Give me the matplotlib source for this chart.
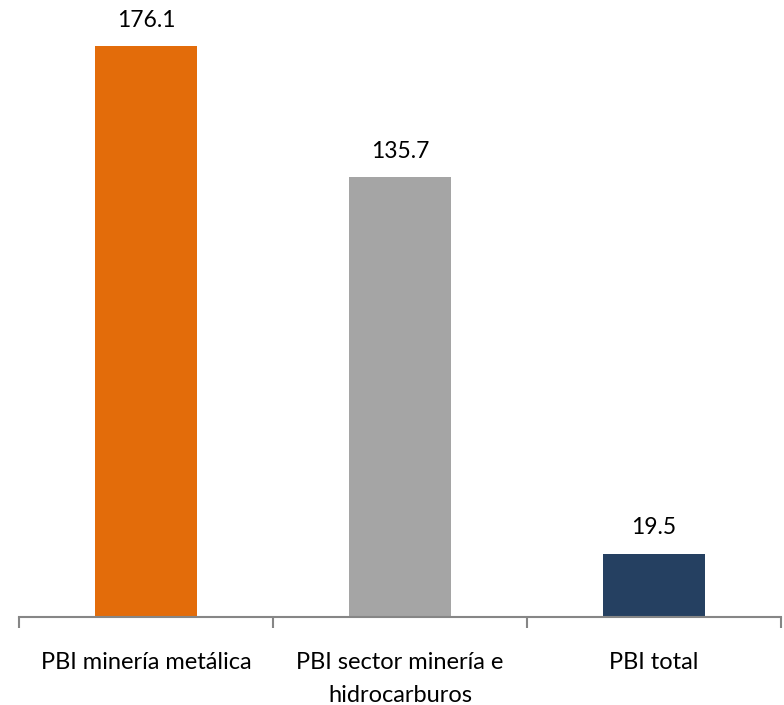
import matplotlib.pyplot as plt
import numpy as np

categories = ['PBI minería metálica', 'PBI sector minería e\nhidrocarburos', 'PBI total']
values = [176.1, 135.7, 19.5]
colors = ['#E36C0A', '#A5A5A5', '#254061']

plt.rcParams['font.family'] = ['Lato', 'DejaVu Sans']

fig = plt.figure(figsize=(7.84, 7.05), dpi=100)
ax = fig.add_axes([19 / 784, 88 / 705, 762 / 784, 617 / 705])

x = np.arange(len(categories))
bars = ax.bar(x, values, width=0.4, color=colors)

for b, v in zip(bars, values):
    ax.annotate(f'{v:.1f}', (b.get_x() + b.get_width() / 2, v),
                xytext=(0, 11), textcoords='offset points',
                ha='center', va='bottom', fontsize=16.5)

ax.set_xlim(-0.5, 2.5)
ax.set_ylim(0, 190.3)

for s in ['top', 'right', 'left']:
    ax.spines[s].set_visible(False)
ax.spines['bottom'].set_color('#868686')
ax.spines['bottom'].set_linewidth(1.5)
ax.set_yticks([])

# boundary ticks between categories, labels on minor ticks
ax.set_xticks([-0.5, 0.5, 1.5, 2.5])
ax.set_xticklabels([])
ax.tick_params(axis='x', which='major', length=8, width=1.5, color='#868686')
ax.set_xticks(x, minor=True)
ax.set_xticklabels(categories, minor=True, fontsize=17, linespacing=1.75, va='top')
ax.tick_params(axis='x', which='minor', length=0, pad=25)

fig.savefig('out.png', dpi=100)
